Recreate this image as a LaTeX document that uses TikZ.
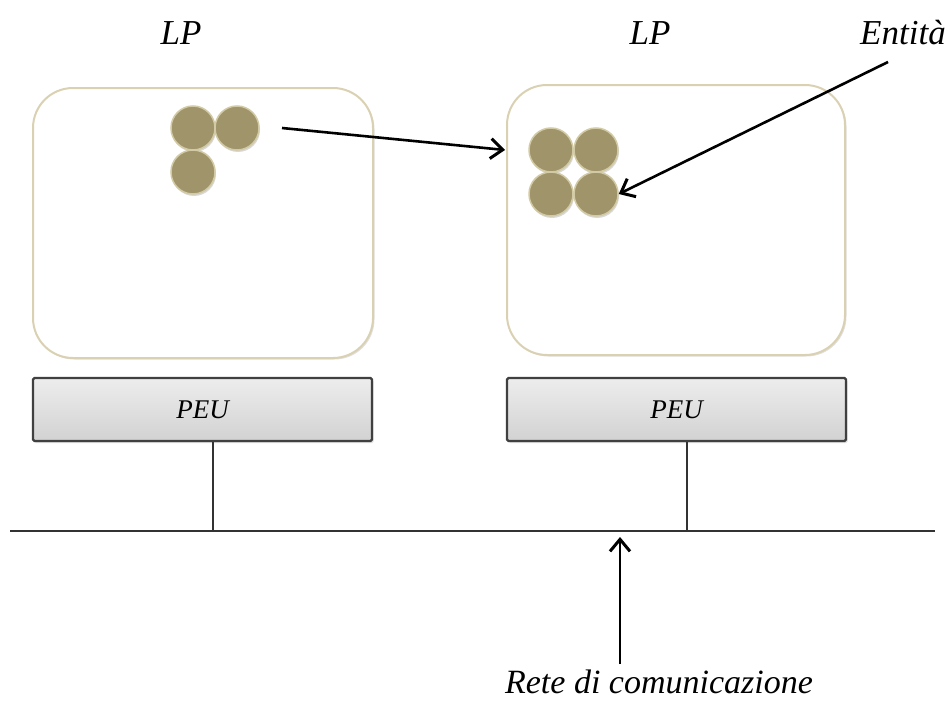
\documentclass[tikz,border=0pt]{standalone}
\usepackage{fontspec}
\setmainfont{Liberation Serif}
\usetikzlibrary{arrows.meta,shadows,calc}
\definecolor{lpedge}{HTML}{D9D1B2}
\definecolor{entfill}{HTML}{A0946A}
\definecolor{entedge}{HTML}{D2CAA4}
\definecolor{peutop}{HTML}{EDEDED}
\definecolor{peubot}{HTML}{D2D2D2}
\tikzset{
  lpbox/.style={draw=lpedge, line width=2pt, rounded corners=40pt, fill=white,
    drop shadow={shadow xshift=1.5pt, shadow yshift=-1.5pt, opacity=0.25, fill=gray}},
  entity/.style={circle, minimum size=44pt, inner sep=0pt, fill=entfill, draw=entedge, line width=1.5pt,
    drop shadow={shadow xshift=1pt, shadow yshift=-2pt, opacity=0.3, fill=gray}},
  peubox/.style={draw=black!75, line width=2.2pt, rounded corners=1.5pt, top color=peutop, bottom color=peubot,
    minimum width=339pt, minimum height=63pt, inner sep=0pt,
    drop shadow={shadow xshift=1.5pt, shadow yshift=-2pt, opacity=0.25, fill=gray}},
  lbl/.style={font=\fontsize{35}{40}\selectfont\itshape, inner sep=0pt},
  peulbl/.style={font=\fontsize{27}{30}\selectfont\itshape},
  wire/.style={draw=black!80, line width=2.6pt},
  arr/.style={draw=black, line width=2.6pt, -{Straight Barb[length=12pt,width=20pt,line width=3pt]}}
}
\begin{document}
\begin{tikzpicture}[x=1pt,y=-1pt]
\useasboundingbox (0,0) rectangle (950,701);
% LP boxes
\draw[lpbox] (33,88) rectangle (373,358);
\draw[lpbox] (507,85) rectangle (845,355);
% labels
\node[lbl] (lp1) at (181,33) {LP};
\node[lbl] (lp2) at (650,33) {LP};
\node[lbl] (ent) at (903,33) {Entità};
% entities box 1
\node[entity] (a1) at (193,128) {};
\node[entity] (a2) at (237,128) {};
\node[entity] (a3) at (193,172) {};
% entities box 2
\node[entity] (b1) at (551,150) {};
\node[entity] (b2) at (596,150) {};
\node[entity] (b3) at (551,194) {};
\node[entity] (b4) at (596,194) {};
% arrows
\coordinate (m1) at (282,128);
\coordinate (m2) at (505,150);
\draw[arr] (m1) -- (m2);
\coordinate (e1) at (888,62);
\draw[arr] (e1) -- (b4.east);
% PEU
\node[peubox] (p1) at (202.5,409.5) {};
\node[peulbl] at (p1) {PEU};
\node[peubox] (p2) at (676.5,409.5) {};
\node[peulbl] at (p2) {PEU};
% network
\coordinate (n0) at (10,531);
\coordinate (n1) at (935,531);
\draw[wire] (n0) -- (n1);
\coordinate (j1) at (213,531);
\coordinate (j2) at (687,531);
\draw[wire] (p1.south -| j1) -- (j1);
\draw[wire] (p2.south -| j2) -- (j2);
% net arrow
\node[lbl, font=\fontsize{34}{38}\selectfont\itshape] (rete) at (659,682) {Rete di comunicazione};
\coordinate (r0) at (620,664);
\coordinate (r1) at (620,537);
\draw[arr] (r0) -- (r1);
\end{tikzpicture}
\end{document}
